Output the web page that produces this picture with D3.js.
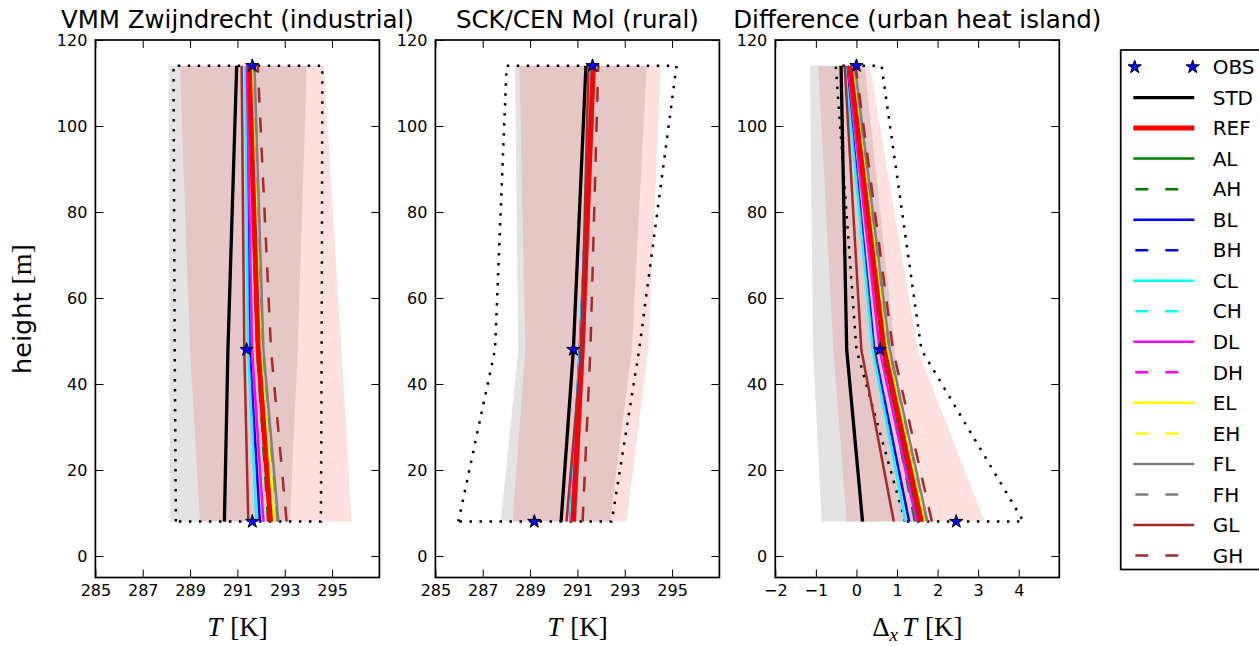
<!DOCTYPE html>
<html>
<head>
<meta charset="utf-8">
<script src="https://cdn.jsdelivr.net/npm/d3@7"></script>
<style>
  body { margin: 0; background: #fff; }
  svg { display: block; }
</style>
</head>
<body>
<svg id="chart" width="1259" height="646"></svg>
<script>
// heights of the three measurement levels [m]
var heights = [8, 48, 114]

// run names, in legend order
var runs = ['OBS', 'STD', 'REF', 'AL', 'AH', 'BL', 'BH', 'CL', 'CH',
            'DL', 'DH', 'EL', 'EH', 'FL', 'FH', 'GL', 'GH']

// temperature per run at [8, 48, 114] m -- VMM Zwijndrecht
var tempZwijndrecht = [
  [291.63, 291.39, 291.63], // OBS
  [290.45, 290.60, 290.97], // STD
  [292.40, 291.88, 291.50], // REF
  [292.35, 291.85, 291.48], // AL
  [292.30, 291.83, 291.47], // AH
  [291.95, 291.52, 291.36], // BL
  [292.45, 291.95, 291.52], // BH
  [291.81, 291.45, 291.33], // CL
  [292.38, 291.90, 291.50], // CH
  [292.10, 291.62, 291.40], // DL
  [292.40, 291.90, 291.50], // DH
  [292.52, 291.98, 291.57], // EL
  [292.58, 292.02, 291.60], // EH
  [292.73, 292.10, 291.72], // FL
  [292.70, 292.08, 291.70], // FH
  [291.46, 291.29, 291.18], // GL
  [293.08, 292.42, 291.86]  // GH
]

// SCK/CEN Mol
var tempMol = [
  [289.18, 290.83, 291.64],
  [290.31, 290.83, 291.36],
  [290.82, 291.20, 291.67],
  [290.84, 291.21, 291.67],
  [290.84, 291.21, 291.68],
  [290.70, 291.10, 291.63],
  [290.80, 291.20, 291.66],
  [290.70, 291.11, 291.62],
  [290.78, 291.18, 291.66],
  [290.75, 291.14, 291.64],
  [290.80, 291.19, 291.66],
  [290.82, 291.20, 291.66],
  [290.83, 291.21, 291.67],
  [290.90, 291.25, 291.72],
  [290.88, 291.24, 291.71],
  [290.54, 291.17, 291.47],
  [291.22, 291.55, 291.88]
]

// urban heat island (difference)
var tempDiff = [
  [2.46, 0.58, 0.00],
  [0.15, -0.24, -0.38],
  [1.60, 0.68, -0.16],
  [1.52, 0.64, -0.18],
  [1.44, 0.62, -0.20],
  [1.30, 0.44, -0.26],
  [1.65, 0.74, -0.14],
  [1.21, 0.40, -0.28],
  [1.60, 0.72, -0.15],
  [1.48, 0.57, -0.21],
  [1.60, 0.71, -0.16],
  [1.68, 0.76, -0.11],
  [1.70, 0.78, -0.10],
  [1.75, 0.82, -0.04],
  [1.74, 0.81, -0.05],
  [0.92, 0.12, -0.29],
  [1.86, 0.90, -0.02]
]

// shaded ranges [lo, hi] at [8, 48, 114] m
var greyZwijndrecht = [[288.15, 288.12, 288.10], [293.22, 293.55, 293.93]]
var pinkZwijndrecht = [[289.42, 289.00, 288.57], [295.83, 295.40, 294.65]]
var dotsZwijndrecht = [[288.40, 288.35, 288.30], [294.53, 294.56, 294.59]]

var greyMol = [[287.76, 288.50, 288.36], [292.38, 293.30, 293.93]]
var pinkMol = [[288.26, 288.80, 288.55], [293.08, 294.00, 294.53]]
var dotsMol = [[285.97, 287.52, 288.01], [292.45, 293.61, 295.19]]

var greyDiff = [[-0.86, -1.07, -1.15], [1.40, 0.95, 0.20]]
var pinkDiff = [[-0.24, -0.57, -0.94], [3.16, 1.51, 0.33]]
var dotsDiff = [[1.20, 0.00, -0.51], [4.12, 1.60, 0.62]]

var tempTicks = [285, 287, 289, 291, 293, 295]
var diffTicks = [-2, -1, 0, 1, 2, 3, 4]
var heightTicks = [0, 20, 40, 60, 80, 100, 120]

// line styles: colour, width, dashed
var runStyle = {
  STD: ['black', 3.3, false],
  REF: ['red', 5, false],
  AL: ['green', 2.5, false],  AH: ['green', 2.5, true],
  BL: ['blue', 2.5, false],   BH: ['blue', 2.5, true],
  CL: ['cyan', 2.5, false],   CH: ['cyan', 2.5, true],
  DL: ['magenta', 2.5, false], DH: ['magenta', 2.5, true],
  EL: ['yellow', 2.5, false], EH: ['yellow', 2.5, true],
  FL: ['gray', 2.5, false],   FH: ['gray', 2.5, true],
  GL: ['brown', 2.5, false],  GH: ['brown', 2.5, true]
}
// REF is drawn on top of the sensitivity runs
var drawOrder = ['STD', 'AL', 'AH', 'BL', 'BH', 'CL', 'CH', 'DL', 'DH',
                 'EL', 'EH', 'FL', 'FH', 'REF', 'GL', 'GH']

var panels = [
  {title: 'VMM Zwijndrecht (industrial)', domain: [285, 297], ticks: tempTicks, temps: tempZwijndrecht,
   grey: greyZwijndrecht, pink: pinkZwijndrecht, dots: dotsZwijndrecht, diff: false},
  {title: 'SCK/CEN Mol (rural)', domain: [285, 297], ticks: tempTicks, temps: tempMol,
   grey: greyMol, pink: pinkMol, dots: dotsMol, diff: false},
  {title: 'Difference (urban heat island)', domain: [-2, 5], ticks: diffTicks, temps: tempDiff,
   grey: greyDiff, pink: pinkDiff, dots: dotsDiff, diff: true}
]

var svg = d3.select('#chart')
var panelLeft = [95.4, 435.4, 775.3]
var panelWidth = 284
var plotTop = 40, plotBottom = 577.5
var sans = 'DejaVu Sans', serif = 'Liberation Serif'

var y = d3.scaleLinear().domain([-5, 120]).range([plotBottom, plotTop])
var star = d3.symbol().type(d3.symbolStar).size(55)

function toPoints(vals) { return heights.map((h, i) => ({h: h, v: vals[i]})) }

panels.forEach(function(p, k) {
  var x = d3.scaleLinear().domain(p.domain).range([panelLeft[k], panelLeft[k] + panelWidth])
  var g = svg.append('g')

  var band = d3.area().y(d => y(d.h)).x0(d => x(d.lo)).x1(d => x(d.hi))
  var bandPts = r => heights.map((h, i) => ({h: h, lo: r[0][i], hi: r[1][i]}))

  g.append('path').datum(bandPts(p.grey)).attr('d', band)
    .attr('fill', '#000').attr('fill-opacity', 0.11)
  g.append('path').datum(bandPts(p.pink)).attr('d', band)
    .attr('fill', 'red').attr('fill-opacity', 0.12)

  var line = d3.line().x(d => x(d.v)).y(d => y(d.h))

  // dotted envelope (closed)
  var env = toPoints(p.dots[0]).concat(toPoints(p.dots[1]).reverse())
  g.append('path')
    .attr('d', line(env) + 'Z')
    .attr('fill', 'none').attr('stroke', 'black').attr('stroke-width', 2.5)
    .attr('stroke-dasharray', '2.5,7.5')

  drawOrder.forEach(function(r) {
    var s = runStyle[r]
    g.append('path').datum(toPoints(p.temps[runs.indexOf(r)])).attr('d', line)
      .attr('fill', 'none').attr('stroke', s[0]).attr('stroke-width', s[1])
      .attr('stroke-dasharray', s[2] ? '15,15' : null)
  })

  // observations
  g.selectAll('.obs').data(toPoints(p.temps[0])).enter().append('path')
    .attr('class', 'obs')
    .attr('d', star)
    .attr('transform', d => `translate(${x(d.v)},${y(d.h)})`)
    .attr('fill', 'blue').attr('stroke', 'black').attr('stroke-width', 1)

  // axes, inward ticks on all sides
  var axB = g.append('g').attr('transform', `translate(0,${plotBottom})`)
    .call(d3.axisBottom(x).tickValues(p.ticks).tickFormat(d3.format('d'))
      .tickSizeInner(-8).tickSizeOuter(0).tickPadding(7))
  var axT = g.append('g').attr('transform', `translate(0,${plotTop})`)
    .call(d3.axisTop(x).tickValues(p.ticks).tickSizeInner(-8).tickSizeOuter(0).tickFormat(''))
  var axL = g.append('g').attr('transform', `translate(${panelLeft[k]},0)`)
    .call(d3.axisLeft(y).tickValues(heightTicks).tickSizeInner(-8).tickSizeOuter(0).tickPadding(8))
  var axR = g.append('g').attr('transform', `translate(${panelLeft[k] + panelWidth},0)`)
    .call(d3.axisRight(y).tickValues(heightTicks).tickSizeInner(-8).tickSizeOuter(0).tickFormat(''))
  ;[axB, axT, axL, axR].forEach(function(a) {
    a.select('.domain').remove()
    a.selectAll('.tick line').attr('stroke', 'black').attr('stroke-width', 1)
    a.selectAll('.tick text').attr('fill', 'black')
      .attr('font-family', sans).attr('font-size', 16)
  })

  // frame
  g.append('rect').attr('x', panelLeft[k]).attr('y', plotTop)
    .attr('width', panelWidth).attr('height', plotBottom - plotTop)
    .attr('fill', 'none').attr('stroke', 'black').attr('stroke-width', 1.7)

  // title
  g.append('text').attr('x', panelLeft[k] + panelWidth / 2).attr('y', 27.5)
    .attr('text-anchor', 'middle').attr('font-family', sans).attr('font-size', 24.5)
    .text(p.title)

  // x label
  var xl = g.append('text').attr('x', panelLeft[k] + panelWidth / 2).attr('y', 636)
    .attr('text-anchor', 'middle').attr('font-family', serif).attr('font-size', 27)
  if (p.diff) {
    xl.append('tspan').text('\u0394')
    xl.append('tspan').attr('font-style', 'italic').attr('font-size', 19).attr('dy', 5).text('x')
    xl.append('tspan').attr('font-style', 'italic').attr('dy', -5).attr('dx', 4).text('T')
  } else {
    xl.append('tspan').attr('font-style', 'italic').text('T')
  }
  xl.append('tspan').attr('dx', 8).text('[K]')
})

// y label
var yl = svg.append('text').attr('transform', 'translate(31,309) rotate(-90)')
  .attr('text-anchor', 'middle').attr('font-family', sans).attr('font-size', 25.5)
yl.append('tspan').text('height ')
yl.append('tspan').attr('font-family', serif).attr('font-size', 28).text('[m]')

// legend
var lg = svg.append('g')
lg.append('rect').attr('x', 1120.7).attr('y', 50).attr('width', 200).attr('height', 519.5)
  .attr('fill', 'white').attr('stroke', 'black').attr('stroke-width', 1.7)

var legY = d3.scalePoint().domain(runs).range([67, 555.5])
runs.forEach(function(r) {
  var yy = legY(r)
  if (r == 'OBS') {
    ;[1134.7, 1192.7].forEach(function(xx) {
      lg.append('path').attr('d', star).attr('transform', `translate(${xx},${yy})`)
        .attr('fill', 'blue').attr('stroke', 'black').attr('stroke-width', 1)
    })
  } else {
    var s = runStyle[r]
    lg.append('line').attr('x1', 1133.3).attr('x2', 1194.3).attr('y1', yy).attr('y2', yy)
      .attr('stroke', s[0]).attr('stroke-width', s[1])
      .attr('stroke-dasharray', s[2] ? '13,17' : null)
      .attr('stroke-dashoffset', s[2] ? -2 : null)
  }
  lg.append('text').attr('x', 1212.7).attr('y', yy).attr('dy', '0.36em')
    .attr('font-family', sans).attr('font-size', 20).text(r)
})
</script>
</body>
</html>
